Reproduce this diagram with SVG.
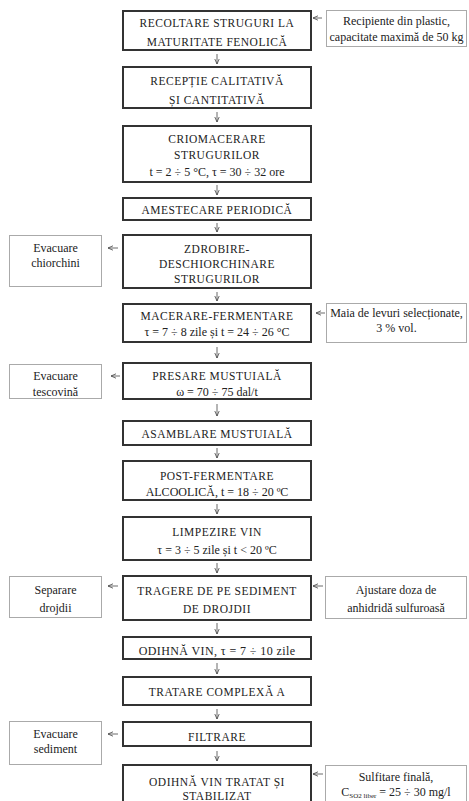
<svg xmlns="http://www.w3.org/2000/svg" width="469" height="801" viewBox="0 0 469 801">
<style>
.m{fill:#fff;stroke:#333;stroke-width:2}
.s{fill:#fff;stroke:#aaa;stroke-width:1}
.t{font-family:"Liberation Serif","Times New Roman",serif;font-size:11.5px;letter-spacing:0.5px;fill:#222;text-anchor:middle}
.l{font-family:"Liberation Serif","Times New Roman",serif;font-size:12px;fill:#222;text-anchor:middle}
.c line{stroke:#444;stroke-width:0.8;fill:none}
</style>
<defs>
<marker id="ah" viewBox="0 0 6 6" refX="5.5" refY="3" markerWidth="6" markerHeight="6" markerUnits="userSpaceOnUse" orient="auto">
<path d="M0.5,0.8 L5.5,3 L0.5,5.2" fill="none" stroke="#444" stroke-width="0.8"/>
</marker>
</defs>
<rect width="469" height="801" fill="#fff"/>
<g class="c" id="connectors">
<line x1="217" y1="54" x2="217" y2="64" marker-end="url(#ah)"/>
<line x1="217" y1="112" x2="217" y2="122" marker-end="url(#ah)"/>
<line x1="217" y1="185" x2="217" y2="195" marker-end="url(#ah)"/>
<line x1="217" y1="223" x2="217" y2="232" marker-end="url(#ah)"/>
<line x1="217" y1="292" x2="217" y2="301" marker-end="url(#ah)"/>
<line x1="217" y1="347" x2="217" y2="358" marker-end="url(#ah)"/>
<line x1="217" y1="404" x2="217" y2="416" marker-end="url(#ah)"/>
<line x1="217" y1="448" x2="217" y2="458" marker-end="url(#ah)"/>
<line x1="217" y1="504" x2="217" y2="514" marker-end="url(#ah)"/>
<line x1="217" y1="563" x2="217" y2="573" marker-end="url(#ah)"/>
<line x1="217" y1="623" x2="217" y2="634" marker-end="url(#ah)"/>
<line x1="217" y1="663" x2="217" y2="674" marker-end="url(#ah)"/>
<line x1="217" y1="709" x2="217" y2="719" marker-end="url(#ah)"/>
<line x1="217" y1="751" x2="217" y2="761" marker-end="url(#ah)"/>
<line x1="322" y1="18" x2="313" y2="18" marker-end="url(#ah)"/>
<line x1="325" y1="313" x2="316" y2="313" marker-end="url(#ah)"/>
<line x1="323" y1="586" x2="313" y2="586" marker-end="url(#ah)"/>
<line x1="323" y1="774" x2="313" y2="774" marker-end="url(#ah)"/>
<line x1="118" y1="248" x2="108" y2="248" marker-end="url(#ah)"/>
<line x1="120" y1="376" x2="111" y2="376" marker-end="url(#ah)"/>
<line x1="118" y1="586" x2="108" y2="586" marker-end="url(#ah)"/>
<line x1="118" y1="734" x2="108" y2="734" marker-end="url(#ah)"/>
</g>
<g id="n1"><rect class="m" x="123" y="11" width="188" height="39"/><text class="t" x="217" y="27">RECOLTARE STRUGURI LA</text><text class="t" x="217" y="46">MATURITATE FENOLICĂ</text></g>
<g id="n2"><rect class="m" x="123" y="67" width="188" height="41"/><text class="t" x="217" y="85">RECEPȚIE CALITATIVĂ</text><text class="t" x="217" y="104">ȘI CANTITATIVĂ</text></g>
<g id="n3"><rect class="m" x="123" y="126" width="188" height="56"/><text class="t" x="217" y="143">CRIOMACERARE</text><text class="t" x="217" y="159">STRUGURILOR</text><text class="l" x="217" y="176">t = 2 ÷ 5 °C, τ = 30 ÷ 32 ore</text></g>
<g id="n4"><rect class="m" x="123" y="198" width="188" height="22"/><text class="t" x="217" y="214">AMESTECARE PERIODICĂ</text></g>
<g id="n5"><rect class="m" x="123" y="235" width="188" height="53"/><text class="t" x="217" y="253">ZDROBIRE-</text><text class="t" x="217" y="268">DESCHIORCHINARE</text><text class="t" x="217" y="283">STRUGURILOR</text></g>
<g id="n6"><rect class="m" x="123" y="304" width="188" height="38"/><text class="t" x="217" y="320">MACERARE-FERMENTARE</text><text class="l" x="217" y="336">τ = 7 ÷ 8 zile și t = 24 ÷ 26 °C</text></g>
<g id="n7"><rect class="m" x="123" y="363" width="188" height="36"/><text class="t" x="217" y="380">PRESARE MUSTUIALĂ</text><text class="l" x="217" y="396">ω = 70 ÷ 75 dal/t</text></g>
<g id="n8"><rect class="m" x="123" y="421" width="188" height="24"/><text class="t" x="217" y="438">ASAMBLARE MUSTUIALĂ</text></g>
<g id="n9"><rect class="m" x="123" y="461" width="188" height="39"/><text class="t" x="217" y="480">POST-FERMENTARE</text><text class="l" x="217" y="496">ALCOOLICĂ, t = 18 ÷ 20 ºC</text></g>
<g id="n10"><rect class="m" x="123" y="517" width="188" height="43"/><text class="t" x="217" y="536">LIMPEZIRE VIN</text><text class="l" x="217" y="554">τ = 3 ÷ 5 zile și t &lt; 20 ºC</text></g>
<g id="n11"><rect class="m" x="123" y="576" width="188" height="44"/><text class="t" x="217" y="595">TRAGERE DE PE SEDIMENT</text><text class="t" x="217" y="613">DE DROJDII</text></g>
<g id="n12"><rect class="m" x="123" y="637" width="188" height="22"/><text class="l" x="217" y="655" style="letter-spacing:0.4px">ODIHNĂ VIN, τ = 7 ÷ 10 zile</text></g>
<g id="n13"><rect class="m" x="123" y="677" width="188" height="28"/><text class="t" x="217" y="696">TRATARE COMPLEXĂ A</text></g>
<g id="n14"><rect class="m" x="123" y="722" width="188" height="24"/><text class="t" x="217" y="741">FILTRARE</text></g>
<g id="n15"><rect class="m" x="123" y="765" width="188" height="50"/><text class="t" x="217" y="786">ODIHNĂ VIN TRATAT ȘI</text><text class="t" x="217" y="800">STABILIZAT</text></g>
<g id="r1"><rect class="s" x="326.5" y="10.5" width="140" height="36"/><text class="l" x="396.5" y="25">Recipiente din plastic,</text><text class="l" x="396.5" y="41">capacitate maximă de 50 kg</text></g>
<g id="r2"><rect class="s" x="326.5" y="303.5" width="140" height="39"/><text class="l" x="396.5" y="317">Maia de levuri selecționate,</text><text class="l" x="396.5" y="332">3 % vol.</text></g>
<g id="r3"><rect class="s" x="325.5" y="576.5" width="141" height="42"/><text class="l" x="396" y="594">Ajustare doza de</text><text class="l" x="396" y="612">anhidridă sulfuroasă</text></g>
<g id="r4"><rect class="s" x="325.5" y="765.5" width="141" height="50"/><text class="l" x="396" y="781">Sulfitare finală,</text><text class="l" x="396" y="796">C<tspan font-size="7" dy="1.5">SO2 liber</tspan><tspan dy="-1.5"> = 25 ÷ 30 mg/l</tspan></text></g>
<g id="l1"><rect class="s" x="9.5" y="235.5" width="92" height="51"/><text class="l" x="55.5" y="252">Evacuare</text><text class="l" x="55.5" y="267">chiorchini</text></g>
<g id="l2"><rect class="s" x="9.5" y="364.5" width="92" height="34"/><text class="l" x="55.5" y="380">Evacuare</text><text class="l" x="55.5" y="396">tescovină</text></g>
<g id="l3"><rect class="s" x="9.5" y="576.5" width="92" height="41"/><text class="l" x="55.5" y="594">Separare</text><text class="l" x="55.5" y="612">drojdii</text></g>
<g id="l4"><rect class="s" x="9.5" y="721.5" width="92" height="43"/><text class="l" x="55.5" y="738">Evacuare</text><text class="l" x="55.5" y="753">sediment</text></g>
</svg>
